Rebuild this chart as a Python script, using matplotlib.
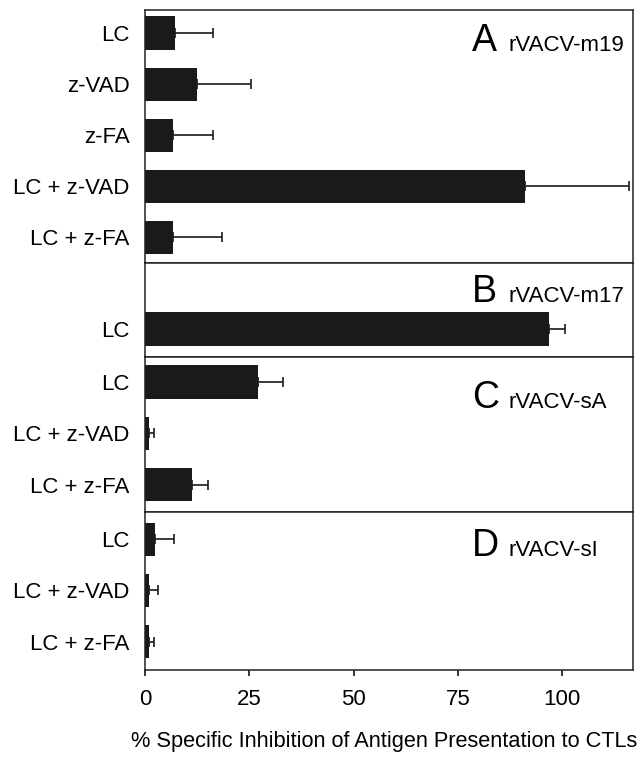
import numpy as np
import matplotlib.pyplot as plt

plt.rcParams['font.family'] = ['Liberation Sans', 'DejaVu Sans']

# -----------------------------
# DATA
# -----------------------------
labels_a = ["LC", "z-VAD", "z-FA", "LC + z-VAD", "LC + z-FA"]
values_a = [7.3, 12.5, 6.6, 91.2, 6.6]
errors_a = [9.1, 12.8, 9.8, 24.9, 11.9]

labels_b = ["LC"]
values_b = [96.8]
errors_b = [3.8]

labels_c = ["LC", "LC + z-VAD", "LC + z-FA"]
values_c = [27.2, 1.0, 11.2]
errors_c = [6.0, 1.2, 3.8]

labels_d = ["LC", "LC + z-VAD", "LC + z-FA"]
values_d = [2.3, 1.0, 1.0]
errors_d = [4.7, 2.2, 1.2]

panel_letters = ["A", "B", "C", "D"]
panel_names = ["rVACV-m19", "rVACV-m17", "rVACV-sA", "rVACV-sI"]

x_ticks = [0, 25, 50, 75, 100]
x_label = "% Specific Inhibition of Antigen Presentation to CTLs"

# -----------------------------
# LAYOUT
# -----------------------------
W, H = 642, 759
fig = plt.figure(figsize=(W / 100, H / 100), dpi=100)

# (top, bottom) y-limits, first category at the top
panels = [
    (labels_a, values_a, errors_a, (-0.45, 4.5)),
    (labels_b, values_b, errors_b, (-1.29, 0.55)),
    (labels_c, values_c, errors_c, (-0.49, 2.53)),
    (labels_d, values_d, errors_d, (-0.53, 2.55)),
]
heights = [253, 94, 155, 158]

gs = fig.add_gridspec(4, 1, height_ratios=heights, hspace=0,
                      left=145 / W, right=633 / W, top=1 - 10 / H, bottom=1 - 670 / H)

# baseline (pixel y from top) of the panel letter
letter_y = [51, 302, 408, 556]

axes = []
for i, (labs, vals, errs, ylim) in enumerate(panels):
    ax = fig.add_subplot(gs[i])
    y = np.arange(len(labs))
    ax.barh(y, vals, height=0.65, color="#1a1a1a",
            xerr=[np.zeros(len(errs)), errs],
            error_kw=dict(ecolor="#1a1a1a", elinewidth=1.2, capsize=3.3, capthick=1.2))
    ax.set_yticks(y)
    ax.set_yticklabels(labs, fontsize=16)
    ax.set_ylim(ylim[1], ylim[0])
    ax.set_xlim(0, 117)
    ax.tick_params(axis="y", length=0, pad=11)
    for s in ax.spines.values():
        s.set_linewidth(1.1)
        s.set_color("#222222")
    if i < 3:
        ax.tick_params(axis="x", bottom=False, labelbottom=False)
    else:
        ax.set_xticks(x_ticks)
        ax.tick_params(axis="x", direction="out", length=4, width=1.1,
                       labelsize=16, pad=10)
        ax.set_xlabel(x_label, fontsize=15.7)
        ax.xaxis.set_label_coords(0.49, -0.385)
    fig.text(472 / W, 1 - letter_y[i] / H, panel_letters[i],
             fontsize=27, va="baseline", ha="left")
    fig.text(508 / W, 1 - letter_y[i] / H, panel_names[i],
             fontsize=16, va="baseline", ha="left")
    axes.append(ax)

plt.savefig("out.png", dpi=100)
